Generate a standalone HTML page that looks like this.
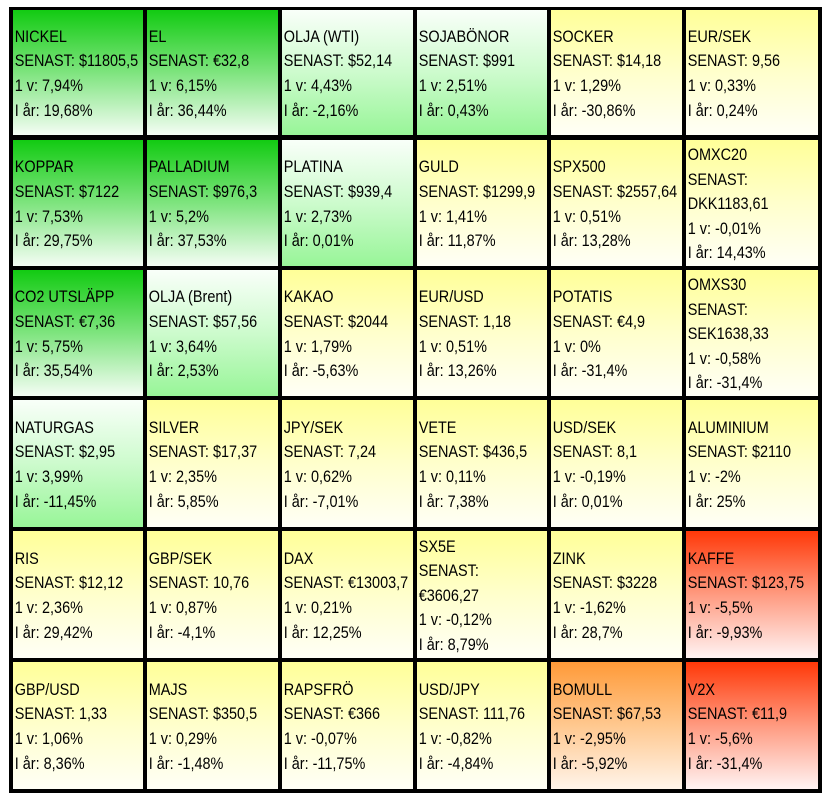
<!DOCTYPE html>
<html><head><meta charset="utf-8">
<style>
html,body{margin:0;padding:0;background:#fff;}
body{width:829px;height:802px;position:relative;overflow:hidden;font-family:"Liberation Sans",Arial,sans-serif;}
#grid{position:absolute;left:9px;top:7px;width:813px;height:786px;background:#000;}
.c{position:absolute;overflow:hidden;display:flex;align-items:center;box-sizing:border-box;padding-top:3px;}
.t{transform:scaleX(0.85);transform-origin:left center;white-space:nowrap;font-size:17px;line-height:24.6px;color:#000;padding-left:2px;}
.g{background:linear-gradient(to bottom,#12cb12 0%,#7ee47e 50%,#f4fdf4 100%);}
.lg{background:linear-gradient(to bottom,#f9fff9 0%,#cdfbcd 50%,#98f598 100%);}
.y{background:linear-gradient(to bottom,#ffff98 0%,#ffffcc 50%,#fffff6 100%);}
.o{background:linear-gradient(to bottom,#ff9a38 0%,#ffc88f 50%,#fff4ea 100%);}
.r{background:linear-gradient(to bottom,#ff3808 0%,#ff9a80 50%,#fff3f3 100%);}
</style></head><body>
<div id="grid">
<!-- Row 1 -->
<div class="c g" style="left:4px;top:3px;width:130px;height:125px"><div class="t">NICKEL<br>SENAST: $11805,5<br>1 v: 7,94%<br>I år: 19,68%</div></div>
<div class="c g" style="left:138px;top:3px;width:131px;height:125px"><div class="t">EL<br>SENAST: €32,8<br>1 v: 6,15%<br>I år: 36,44%</div></div>
<div class="c lg" style="left:273px;top:3px;width:131px;height:125px"><div class="t">OLJA (WTI)<br>SENAST: $52,14<br>1 v: 4,43%<br>I år: -2,16%</div></div>
<div class="c lg" style="left:408px;top:3px;width:130px;height:125px"><div class="t">SOJABÖNOR<br>SENAST: $991<br>1 v: 2,51%<br>I år: 0,43%</div></div>
<div class="c y" style="left:542px;top:3px;width:131px;height:125px"><div class="t">SOCKER<br>SENAST: $14,18<br>1 v: 1,29%<br>I år: -30,86%</div></div>
<div class="c y" style="left:677px;top:3px;width:132px;height:125px"><div class="t">EUR/SEK<br>SENAST: 9,56<br>1 v: 0,33%<br>I år: 0,24%</div></div>
<!-- Row 2 -->
<div class="c g" style="left:4px;top:133px;width:130px;height:126px"><div class="t">KOPPAR<br>SENAST: $7122<br>1 v: 7,53%<br>I år: 29,75%</div></div>
<div class="c g" style="left:138px;top:133px;width:131px;height:126px"><div class="t">PALLADIUM<br>SENAST: $976,3<br>1 v: 5,2%<br>I år: 37,53%</div></div>
<div class="c lg" style="left:273px;top:133px;width:131px;height:126px"><div class="t">PLATINA<br>SENAST: $939,4<br>1 v: 2,73%<br>I år: 0,01%</div></div>
<div class="c y" style="left:408px;top:133px;width:130px;height:126px"><div class="t">GULD<br>SENAST: $1299,9<br>1 v: 1,41%<br>I år: 11,87%</div></div>
<div class="c y" style="left:542px;top:133px;width:131px;height:126px"><div class="t">SPX500<br>SENAST: $2557,64<br>1 v: 0,51%<br>I år: 13,28%</div></div>
<div class="c y" style="left:677px;top:133px;width:132px;height:126px"><div class="t">OMXC20<br>SENAST:<br>DKK1183,61<br>1 v: -0,01%<br>I år: 14,43%</div></div>
<!-- Row 3 -->
<div class="c g" style="left:4px;top:263px;width:130px;height:126px"><div class="t">CO2 UTSLÄPP<br>SENAST: €7,36<br>1 v: 5,75%<br>I år: 35,54%</div></div>
<div class="c lg" style="left:138px;top:263px;width:131px;height:126px"><div class="t">OLJA (Brent)<br>SENAST: $57,56<br>1 v: 3,64%<br>I år: 2,53%</div></div>
<div class="c y" style="left:273px;top:263px;width:131px;height:126px"><div class="t">KAKAO<br>SENAST: $2044<br>1 v: 1,79%<br>I år: -5,63%</div></div>
<div class="c y" style="left:408px;top:263px;width:130px;height:126px"><div class="t">EUR/USD<br>SENAST: 1,18<br>1 v: 0,51%<br>I år: 13,26%</div></div>
<div class="c y" style="left:542px;top:263px;width:131px;height:126px"><div class="t">POTATIS<br>SENAST: €4,9<br>1 v: 0%<br>I år: -31,4%</div></div>
<div class="c y" style="left:677px;top:263px;width:132px;height:126px"><div class="t">OMXS30<br>SENAST:<br>SEK1638,33<br>1 v: -0,58%<br>I år: -31,4%</div></div>
<!-- Row 4 -->
<div class="c lg" style="left:4px;top:393px;width:130px;height:127px"><div class="t">NATURGAS<br>SENAST: $2,95<br>1 v: 3,99%<br>I år: -11,45%</div></div>
<div class="c y" style="left:138px;top:393px;width:131px;height:127px"><div class="t">SILVER<br>SENAST: $17,37<br>1 v: 2,35%<br>I år: 5,85%</div></div>
<div class="c y" style="left:273px;top:393px;width:131px;height:127px"><div class="t">JPY/SEK<br>SENAST: 7,24<br>1 v: 0,62%<br>I år: -7,01%</div></div>
<div class="c y" style="left:408px;top:393px;width:130px;height:127px"><div class="t">VETE<br>SENAST: $436,5<br>1 v: 0,11%<br>I år: 7,38%</div></div>
<div class="c y" style="left:542px;top:393px;width:131px;height:127px"><div class="t">USD/SEK<br>SENAST: 8,1<br>1 v: -0,19%<br>I år: 0,01%</div></div>
<div class="c y" style="left:677px;top:393px;width:132px;height:127px"><div class="t">ALUMINIUM<br>SENAST: $2110<br>1 v: -2%<br>I år: 25%</div></div>
<!-- Row 5 -->
<div class="c y" style="left:4px;top:524px;width:130px;height:127px"><div class="t">RIS<br>SENAST: $12,12<br>1 v: 2,36%<br>I år: 29,42%</div></div>
<div class="c y" style="left:138px;top:524px;width:131px;height:127px"><div class="t">GBP/SEK<br>SENAST: 10,76<br>1 v: 0,87%<br>I år: -4,1%</div></div>
<div class="c y" style="left:273px;top:524px;width:131px;height:127px"><div class="t">DAX<br>SENAST: €13003,7<br>1 v: 0,21%<br>I år: 12,25%</div></div>
<div class="c y" style="left:408px;top:524px;width:130px;height:127px"><div class="t">SX5E<br>SENAST:<br>€3606,27<br>1 v: -0,12%<br>I år: 8,79%</div></div>
<div class="c y" style="left:542px;top:524px;width:131px;height:127px"><div class="t">ZINK<br>SENAST: $3228<br>1 v: -1,62%<br>I år: 28,7%</div></div>
<div class="c r" style="left:677px;top:524px;width:132px;height:127px"><div class="t">KAFFE<br>SENAST: $123,75<br>1 v: -5,5%<br>I år: -9,93%</div></div>
<!-- Row 6 -->
<div class="c y" style="left:4px;top:655px;width:130px;height:127px"><div class="t">GBP/USD<br>SENAST: 1,33<br>1 v: 1,06%<br>I år: 8,36%</div></div>
<div class="c y" style="left:138px;top:655px;width:131px;height:127px"><div class="t">MAJS<br>SENAST: $350,5<br>1 v: 0,29%<br>I år: -1,48%</div></div>
<div class="c y" style="left:273px;top:655px;width:131px;height:127px"><div class="t">RAPSFRÖ<br>SENAST: €366<br>1 v: -0,07%<br>I år: -11,75%</div></div>
<div class="c y" style="left:408px;top:655px;width:130px;height:127px"><div class="t">USD/JPY<br>SENAST: 111,76<br>1 v: -0,82%<br>I år: -4,84%</div></div>
<div class="c o" style="left:542px;top:655px;width:131px;height:127px"><div class="t">BOMULL<br>SENAST: $67,53<br>1 v: -2,95%<br>I år: -5,92%</div></div>
<div class="c r" style="left:677px;top:655px;width:132px;height:127px"><div class="t">V2X<br>SENAST: €11,9<br>1 v: -5,6%<br>I år: -31,4%</div></div>
</div>
</body></html>
